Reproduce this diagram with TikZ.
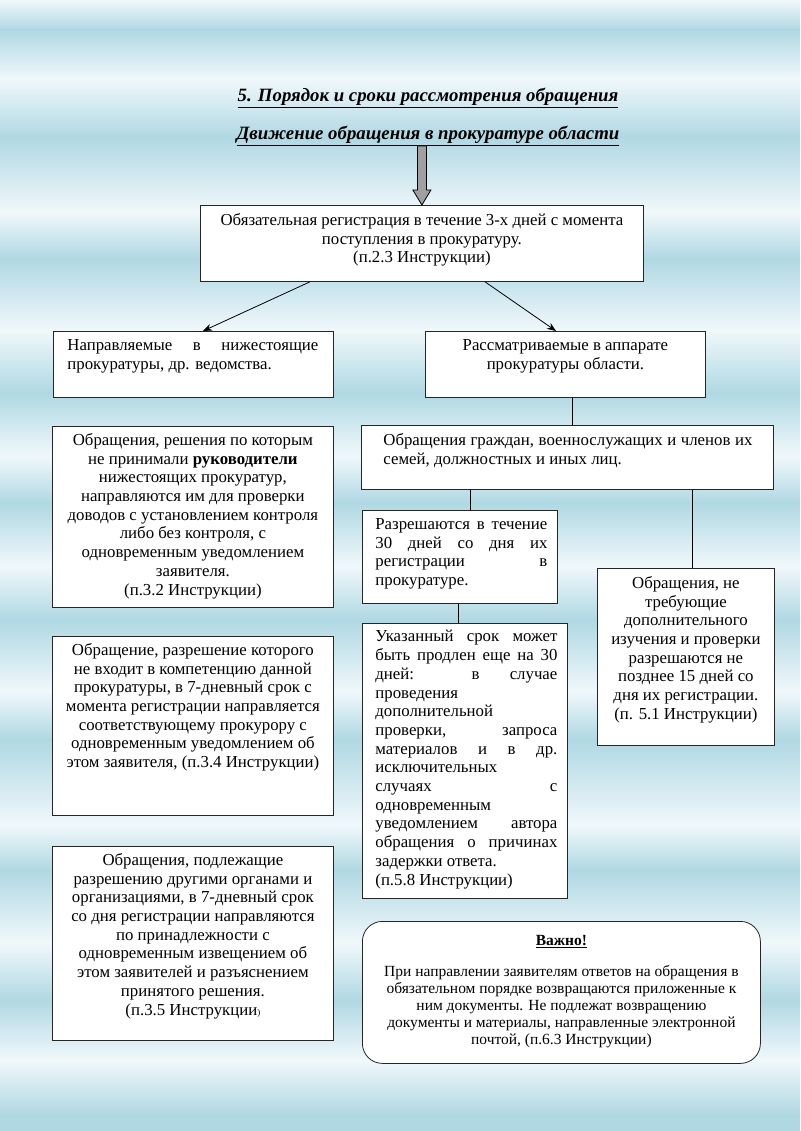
\documentclass[tikz,border=0pt]{standalone}
\usepackage{fontspec}
\setmainfont{Liberation Serif}
\usetikzlibrary{arrows.meta,calc}
\definecolor{bgblue}{RGB}{176,216,227}
\definecolor{bgwhite}{RGB}{240,248,251}
\definecolor{arrgray}{RGB}{160,160,160}
\newcommand{\jl}[1]{\makebox[\linewidth][s]{#1}}
% #1 width, #2 height, #3 top pad, #4 left pad, #5 text width, #6 content
\newcommand{\cell}[6]{\parbox[c][#2][t]{#1}{\vspace*{#3}\hspace*{#4}\parbox[t]{#5}{#6}}}
\tikzset{
  box/.style={draw=black!85, line width=0.8pt, fill=white, inner sep=0pt, anchor=north west,
    font=\fontsize{16.8}{18.7}\selectfont},
  impbox/.style={box, rounded corners=20pt, font=\fontsize{15.5}{17}\selectfont},
  titletext/.style={font=\fontsize{18.8}{22}\selectfont\bfseries\itshape, inner sep=0pt},
  conn/.style={draw=black, line width=0.8pt},
  arr/.style={conn, -{Stealth[length=9pt,width=7pt]}},
  garrow/.style={draw=black, line width=0.8pt, fill=arrgray, line join=miter}
}
\begin{document}
\begin{tikzpicture}[x=1pt,y=-1pt]
\useasboundingbox (0,0) rectangle (800,1131);
% background bands
\foreach \ya/\yb/\ca/\cb in {0/30/bgwhite/bgblue,30/79/bgblue/bgwhite,79/137/bgwhite/bgblue,137/212/bgblue/bgwhite,212/259/bgwhite/bgblue,259/330/bgblue/bgwhite,330/393/bgwhite/bgblue,393/456/bgblue/bgwhite,456/503/bgwhite/bgblue,503/566/bgblue/bgwhite,566/620/bgwhite/bgblue,620/691/bgblue/bgwhite,691/740/bgwhite/bgblue,740/825/bgblue/bgwhite,825/870/bgwhite/bgblue,870/943/bgblue/bgwhite,943/1000/bgwhite/bgblue,1000/1060/bgblue/bgwhite,1060/1115/bgwhite/bgblue,1115/1131/bgblue/bgblue}
  \shade[top color=\ca, bottom color=\cb] (0,\ya) rectangle (800,\yb);

% titles
\node[titletext] (t1) at (428,98) {\underline{5. Порядок и сроки рассмотрения обращения}};
\node[titletext] (t2) at (428,136) {\underline{Движение обращения в прокуратуре области}};

% boxes
\node[box] (top) at (200,205) {\cell{443pt}{76pt}{8pt}{4pt}{435pt}{\centering
  Обязательная регистрация в течение 3-х дней с момента\\
  поступления в прокуратуру.\\
  (п.2.3 Инструкции)}};

\node[box] (left1) at (53,331) {\cell{280pt}{66pt}{8pt}{14pt}{251pt}{\raggedright
  \jl{Направляемые в нижестоящие}\\
  прокуратуры, др. ведомства.}};

\node[box] (right1) at (425,331) {\cell{280pt}{66pt}{8pt}{6pt}{268pt}{\centering
  Рассматриваемые в аппарате\\
  прокуратуры области.}};

\node[box] (r2) at (361,425) {\cell{412pt}{64pt}{8pt}{22pt}{369pt}{\raggedright
  \jl{Обращения граждан, военнослужащих и членов их}\\
  семей, должностных и иных лиц.}};

\node[box] (r3) at (362,510) {\cell{195pt}{93pt}{8pt}{13pt}{172pt}{\raggedright
  \jl{Разрешаются в течение}\\
  \jl{30 дней со дня их}\\
  \jl{регистрации в}\\
  прокуратуре.}};

\node[box] (r4) at (597,568) {\cell{177pt}{177pt}{8pt}{3pt}{171pt}{\centering
  Обращения, не\\
  требующие\\
  дополнительного\\
  изучения и проверки\\
  разрешаются не\\
  позднее 15 дней со\\
  дня их регистрации.\\
  (п. 5.1 Инструкции)}};

\node[box] (r5) at (362,623) {\cell{205pt}{275pt}{7pt}{13pt}{182pt}{\raggedright
  \jl{Указанный срок может}\\
  \jl{быть продлен еще на 30}\\
  \jl{дней: в случае}\\
  проведения\\
  дополнительной\\
  \jl{проверки, запроса}\\
  \jl{материалов и в др.}\\
  исключительных\\
  \jl{случаях с}\\
  одновременным\\
  \jl{уведомлением автора}\\
  \jl{обращения о причинах}\\
  задержки ответа.\\
  (п.5.8 Инструкции)}};

\node[box] (L2) at (52,426) {\cell{281pt}{181pt}{7pt}{3pt}{275pt}{\centering
  Обращения, решения по которым\\
  не принимали \textbf{руководители}\\
  нижестоящих прокуратур,\\
  направляются им для проверки\\
  доводов с установлением контроля\\
  либо без контроля, с\\
  одновременным уведомлением\\
  заявителя.\\
  (п.3.2 Инструкции)}};

\node[box] (L3) at (52,636) {\cell{281pt}{179pt}{7pt}{3pt}{275pt}{\centering
  Обращение, разрешение которого\\
  не входит в компетенцию данной\\
  прокуратуры, в 7-дневный срок с\\
  момента регистрации направляется\\
  соответствующему прокурору с\\
  одновременным уведомлением об\\
  этом заявителя, (п.3.4 Инструкции)}};

\node[box] (L4) at (52,846) {\cell{281pt}{194pt}{7pt}{3pt}{275pt}{\centering
  Обращения, подлежащие\\
  разрешению другими органами и\\
  организациями, в 7-дневный срок\\
  со дня регистрации направляются\\
  по принадлежности с\\
  одновременным извещением об\\
  этом заявителей и разъяснением\\
  принятого решения.\\
  (п.3.5 Инструкции{\small )}}};

\node[impbox] (imp) at (362,921) {\cell{398pt}{142pt}{14pt}{4pt}{390pt}{\centering
  \textbf{\underline{Важно!}}\\[14pt]
  При направлении заявителям ответов на обращения в\\
  обязательном порядке возвращаются приложенные к\\
  ним документы. Не подлежат возвращению\\
  документы и материалы, направленные электронной\\
  почтой, (п.6.3 Инструкции)}};

% gray arrow from titles to first box
\draw[garrow] (top.north) -- ++(-9,-15) -- ++(4.5,0) -- ++(0,-44) -- ++(9,0) -- ++(0,44) -- ++(4.5,0) -- cycle;

% connectors
\draw[arr] ([xshift=110pt]top.south west) -- ([xshift=150pt]left1.north west);
\draw[arr] ([xshift=285pt]top.south west) -- ([xshift=131pt]right1.north west);
\draw[conn] ([xshift=7pt]right1.south) -- ([xshift=7pt]right1.south |- r2.north);
\draw[conn] ([xshift=10pt]r3.north) -- ([xshift=10pt]r3.north |- r2.south);
\draw[conn] ([xshift=6.5pt]r4.north) -- ([xshift=6.5pt]r4.north |- r2.south);
\draw[conn] ([xshift=-2pt]r3.south) -- ([xshift=-2pt]r3.south |- r5.north);
\end{tikzpicture}
\end{document}
